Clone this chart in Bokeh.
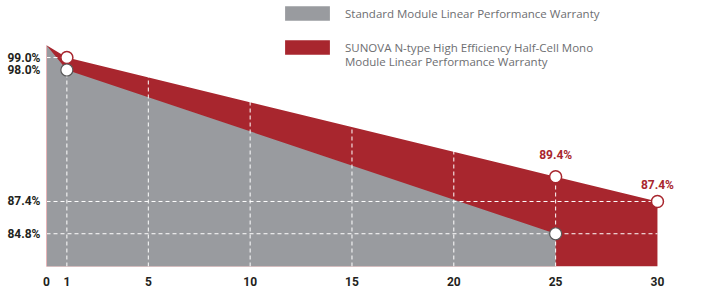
from bokeh.plotting import figure
from bokeh.models import (ColumnDataSource, FixedTicker, Range1d, Legend, LegendItem,
                          PrintfTickFormatter)
from bokeh.core.properties import value
from bokeh.embed import file_html
from bokeh.resources import INLINE

# ---------------- data ----------------
std_years = [0, 1, 25]
std_pct = [100.0, 98.0, 84.8]
sunova_years = [0, 1, 25, 30]
sunova_pct = [100.0, 99.0, 89.4, 87.4]
x_ticks = [0, 1, 5, 10, 15, 20, 25, 30]
y_ticks = [84.8, 87.4, 98.0, 99.0]
ref_lines = [99.0, 87.4, 84.8]
label_years = [25, 30]
label_pct = [89.4, 87.4]
label_text = ["89.4%", "87.4%"]
legend_std = "Standard Module Linear Performance Warranty"
legend_sunova_1 = "SUNOVA N-type High Efficiency Half-Cell Mono"
legend_sunova_2 = "Module Linear Performance Warranty"

# ---------------- style ----------------
RED = "#a8262e"
GRAY = "#999b9f"
Y_FLOOR = 82.16
Y_TOP = 103.6
X_END = 32.31
label_dy = [-22, -16]

p = figure(width=704, height=288, output_backend="svg", toolbar_location=None,
           x_range=Range1d(0, X_END), y_range=Range1d(Y_FLOOR, Y_TOP),
           min_border_left=46, min_border_right=0, min_border_top=0, min_border_bottom=20)
p.outline_line_color = None
p.grid.visible = False
p.background_fill_color = "white"

r_red = p.varea(x=sunova_years, y1=Y_FLOOR, y2=sunova_pct, fill_color=RED)
r_std = p.varea(x=std_years, y1=Y_FLOOR, y2=std_pct, fill_color=GRAY)

vx = x_ticks[1:-1]
p.segment(x0=vx, x1=vx, y0=[Y_FLOOR] * len(vx), y1=[max(sunova_pct)] * len(vx),
          line_color="white", line_dash="4 3", line_width=1)
p.segment(x0=[0] * len(ref_lines), x1=[max(sunova_years)] * len(ref_lines),
          y0=ref_lines, y1=ref_lines, line_color="white", line_dash="4 3", line_width=1)

p.scatter(x=sunova_years[1:], y=sunova_pct[1:], size=12, marker="circle",
          fill_color="white", line_color=RED, line_width=1.5)
p.scatter(x=std_years[1:], y=std_pct[1:], size=12, marker="circle",
          fill_color="white", line_color="#5a5a5a", line_width=1.2)

src = ColumnDataSource(dict(x=label_years, y=label_pct, t=label_text, dy=label_dy))
p.text(x="x", y="y", text="t", y_offset="dy", source=src, text_align="center",
       text_baseline="middle", text_font=value("Roboto"), text_font_style="bold",
       text_font_size="12px", text_color=RED)

p.xaxis.ticker = FixedTicker(ticks=x_ticks)
p.yaxis.ticker = FixedTicker(ticks=y_ticks)
p.yaxis.formatter = PrintfTickFormatter(format="%.1f%%")
for ax in (p.xaxis, p.yaxis):
    ax.major_tick_line_color = None
    ax.minor_tick_line_color = None
    ax.major_label_text_font = "Roboto"
    ax.major_label_text_font_style = "bold"
    ax.major_label_text_font_size = "12px"
    ax.major_label_text_color = "#231f20"
p.xaxis.axis_line_color = None
p.yaxis.axis_line_color = "#e7b3b6"
p.yaxis.bounds = (Y_FLOOR, max(sunova_pct))
p.xaxis.major_label_standoff = 4
p.yaxis.major_label_standoff = 0

common = dict(orientation="vertical", glyph_width=56, glyph_height=18, label_standoff=10,
              padding=0, margin=0, border_line_color=None, background_fill_alpha=0,
              label_text_font="Open Sans", label_text_font_size="11.5px",
              label_text_color="#6d6e71", label_height=14, spacing=0)
legend_a = Legend(items=[LegendItem(label=legend_std, renderers=[r_std])],
                  location=(233, 244), **common)
legend_b = Legend(items=[LegendItem(label=legend_sunova_1, renderers=[r_red])],
                  location=(233, 210), **common)
legend_c = Legend(items=[LegendItem(label=legend_sunova_2, renderers=[])],
                  location=(233, 196), **common)
p.add_layout(legend_a, "center")
p.add_layout(legend_b, "center")
p.add_layout(legend_c, "center")

open("out.html", "w").write(file_html(p, INLINE))
